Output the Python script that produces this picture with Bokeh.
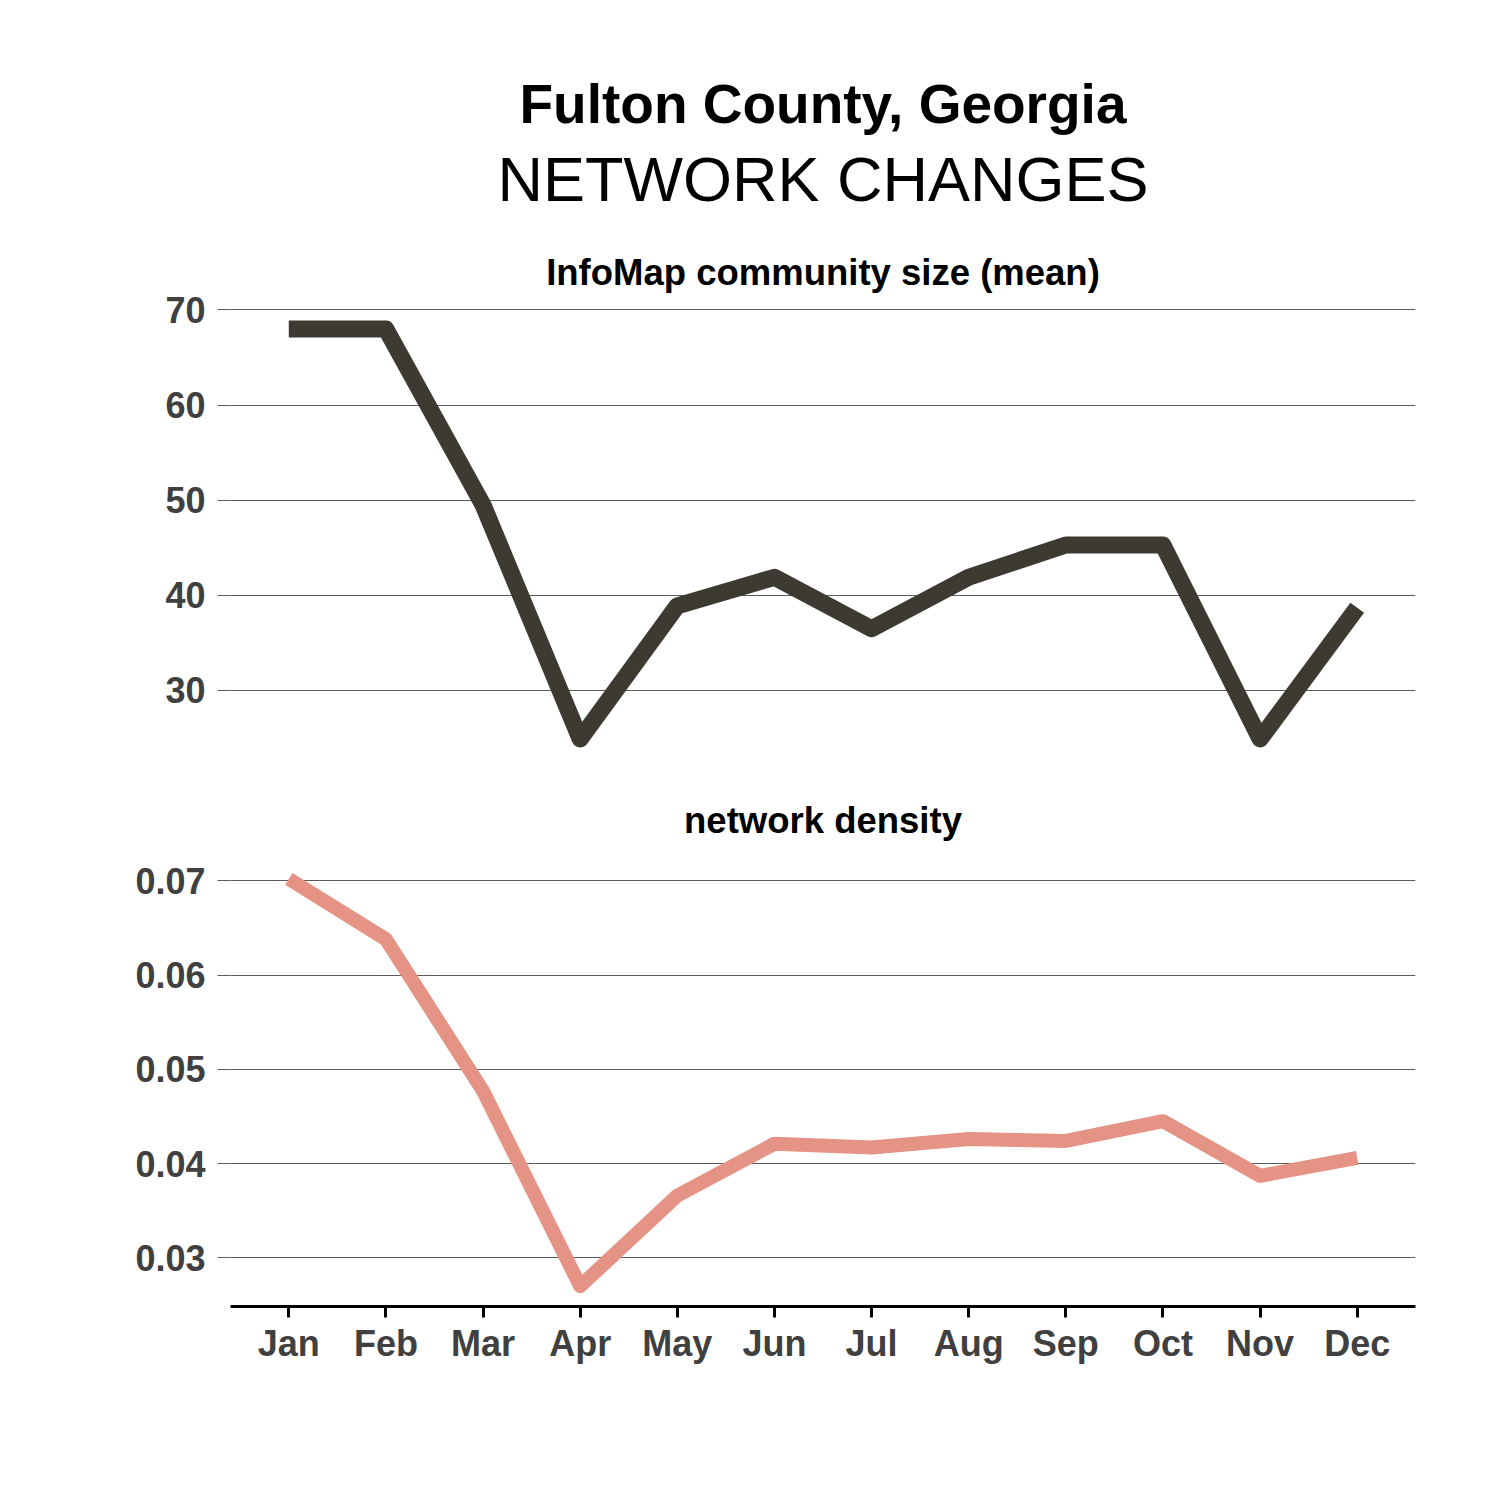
from bokeh.plotting import figure
from bokeh.models import Range1d, FixedTicker, Title, NumeralTickFormatter
from bokeh.layouts import column
from bokeh.embed import file_html
from bokeh.resources import INLINE

months = ["Jan", "Feb", "Mar", "Apr", "May", "Jun", "Jul", "Aug", "Sep", "Oct", "Nov", "Dec"]
community_size = [68.0, 68.0, 49.5, 24.9, 38.9, 41.9, 36.5, 41.9, 45.3, 45.3, 24.9, 38.7]
density = [0.0702, 0.0638, 0.0477, 0.0270, 0.0366, 0.0421, 0.0417, 0.0426, 0.0424, 0.0445, 0.0387, 0.0406]
size_ticks = [30, 40, 50, 60, 70]
density_ticks = [0.03, 0.04, 0.05, 0.06, 0.07]

main_title = "Fulton County, Georgia"
sub_title = "NETWORK CHANGES"
panel_titles = ["InfoMap community size (mean)", "network density"]

x = list(range(1, len(months) + 1))
FONT = "Liberation Sans"
TICK_COLOR = "#404040"
GRID = "#5a5a5a"


def expand(vals, frac=0.05):
    lo, hi = min(vals), max(vals)
    d = (hi - lo) * frac
    return lo - d, hi + d


def style(p, ticks):
    p.outline_line_color = None
    p.background_fill_color = "white"
    p.border_fill_color = "white"
    p.xgrid.grid_line_color = None
    p.ygrid.grid_line_color = GRID
    p.ygrid.grid_line_width = 1
    p.yaxis.ticker = FixedTicker(ticks=ticks)
    p.yaxis.axis_line_color = None
    p.yaxis.major_tick_line_color = GRID
    p.yaxis.major_tick_line_width = 1
    p.yaxis.major_tick_out = 13
    p.yaxis.major_tick_in = 0
    p.yaxis.minor_tick_line_color = None
    p.yaxis.major_label_standoff = 12
    p.yaxis.major_label_text_font = FONT
    p.yaxis.major_label_text_font_style = "bold"
    p.yaxis.major_label_text_font_size = "36px"
    p.yaxis.major_label_text_color = TICK_COLOR


xr = (0.4, len(months) + 0.6)

# Top panel
p1 = figure(width=1485, height=759, output_backend="svg", toolbar_location=None,
            x_range=Range1d(*xr), y_range=Range1d(*expand(community_size)),
            min_border_left=230, min_border_right=70, min_border_top=308, min_border_bottom=0)
style(p1, size_ticks)
p1.xaxis.visible = False
p1.line(x, community_size, line_color="#3C3A31", line_width=17, line_join="round", line_cap="butt")
p1.add_layout(Title(text=panel_titles[0], align="center", text_font=FONT, text_font_style="bold",
                    text_font_size="36.5px", text_color="black", standoff=32), "above")
p1.add_layout(Title(text=sub_title, align="center", text_font=FONT, text_font_style="normal",
                    text_font_size="63px", text_color="black", standoff=39), "above")
p1.add_layout(Title(text=main_title, align="center", text_font=FONT, text_font_style="bold",
                    text_font_size="55px", text_color="black", standoff=-25), "above")

# Bottom panel
p2 = figure(width=1485, height=733, output_backend="svg", toolbar_location=None,
            x_range=Range1d(*xr), y_range=Range1d(*expand(density)),
            min_border_left=230, min_border_right=70, min_border_top=99, min_border_bottom=186)
style(p2, density_ticks)
p2.yaxis.formatter = NumeralTickFormatter(format="0.00")
p2.line(x, density, line_color="#E49384", line_width=14, line_join="round", line_cap="butt")
p2.xaxis.ticker = FixedTicker(ticks=x)
p2.xaxis.major_label_overrides = {i: m for i, m in zip(x, months)}
p2.xaxis.axis_line_color = "black"
p2.xaxis.axis_line_width = 3
p2.xaxis.major_tick_line_color = "black"
p2.xaxis.major_tick_line_width = 3
p2.xaxis.major_tick_out = 11
p2.xaxis.major_tick_in = 0
p2.xaxis.minor_tick_line_color = None
p2.xaxis.major_label_standoff = 5
p2.xaxis.major_label_text_font = FONT
p2.xaxis.major_label_text_font_style = "bold"
p2.xaxis.major_label_text_font_size = "36px"
p2.xaxis.major_label_text_color = TICK_COLOR
p2.add_layout(Title(text=panel_titles[1], align="center", text_font=FONT, text_font_style="bold",
                    text_font_size="36.5px", text_color="black", standoff=36), "above")

layout = column(p1, p2)
open("out.html", "w").write(file_html(layout, INLINE))
